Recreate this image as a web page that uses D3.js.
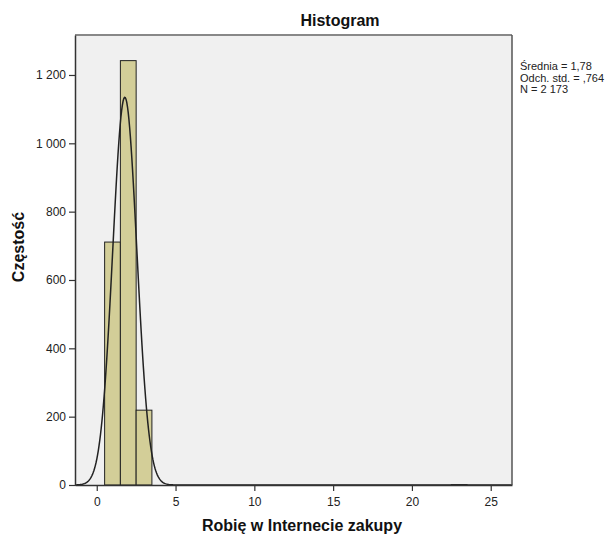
<!DOCTYPE html>
<html><head><meta charset="utf-8">
<script src="https://cdn.jsdelivr.net/npm/d3@7"></script>
<style>body{margin:0;background:#fff;} text{font-family:Arial,"Liberation Sans",sans-serif;}</style>
</head><body>
<svg id="c" width="613" height="535"></svg>
<script>
const binCenters = [1, 2, 3, 23];
const binCounts = [711, 1242, 219, 1];
const binWidth = 1;
const xTicks = [0, 5, 10, 15, 20, 25];
const yTicks = [0, 200, 400, 600, 800, 1000, 1200];
const yTickLabels = ["0", "200", "400", "600", "800", "1 000", "1 200"];
const statsLabels = ["Średnia = 1,78", "Odch. std. = ,764", "N = 2 173"];
const meanVal = 1.78, sdVal = 0.764, nVal = 2173;

const svg = d3.select("#c");
const L = 75, R = 512, T = 35, B = 485;
const x = d3.scaleLinear().domain([-1.38, 26.35]).range([L, R]);
const y = d3.scaleLinear().domain([0, 1317]).range([B, T]);

svg.append("rect").attr("x", L).attr("y", T).attr("width", R - L).attr("height", B - T).attr("fill", "#f0f0f0");

// bars
svg.selectAll(".bar").data(binCenters).enter().append("rect")
  .attr("x", d => x(d - binWidth / 2))
  .attr("width", d => x(d + binWidth / 2) - x(d - binWidth / 2))
  .attr("y", (d, i) => y(binCounts[i]))
  .attr("height", (d, i) => B - y(binCounts[i]))
  .attr("fill", "#d3ce98").attr("stroke", "#222").attr("stroke-width", 1);

// normal curve
const pts = d3.range(0, 601).map(i => {
  const xv = -1.38 + i * (26.35 + 1.38) / 600;
  const yv = nVal * binWidth / (sdVal * Math.sqrt(2 * Math.PI)) * Math.exp(-0.5 * ((xv - meanVal) / sdVal) ** 2);
  return [xv, yv];
});
svg.append("path").datum(pts)
  .attr("d", d3.line().x(d => x(d[0])).y(d => y(d[1])).curve(d3.curveLinear))
  .attr("fill", "none").attr("stroke", "#222").attr("stroke-width", 1.5);

// frame
svg.append("line").attr("x1", L).attr("x2", R).attr("y1", T).attr("y2", T).attr("stroke", "#888").attr("stroke-width", 2);
svg.append("line").attr("x1", R).attr("x2", R).attr("y1", T).attr("y2", B).attr("stroke", "#555").attr("stroke-width", 1.5);

// axes
const ax = svg.append("g").attr("transform", `translate(0,${B})`)
  .call(d3.axisBottom(x).tickValues(xTicks).tickSize(6).tickSizeOuter(0).tickFormat(d3.format("d")));
const ay = svg.append("g").attr("transform", `translate(${L},0)`)
  .call(d3.axisLeft(y).tickValues(yTicks).tickSize(6).tickSizeOuter(0).tickFormat((d, i) => yTickLabels[i]));
[ax, ay].forEach(g => {
  g.select(".domain").attr("stroke", "#333").attr("stroke-width", 1.5);
  g.selectAll(".tick line").attr("stroke", "#333").attr("stroke-width", 1.2);
  g.selectAll(".tick text").attr("font-size", 12).attr("fill", "#222").attr("font-family", "Arial, 'Liberation Sans', sans-serif");
});
ax.selectAll(".tick text").attr("dy", "1.0em");
ay.selectAll(".tick text").attr("x", -9);

// title
svg.append("text").attr("x", 340).attr("y", 26).attr("text-anchor", "middle")
  .attr("font-size", 16).attr("font-weight", "bold").attr("fill", "#111").text("Histogram");

// axis labels
svg.append("text").attr("x", 302).attr("y", 531).attr("text-anchor", "middle")
  .attr("font-size", 16).attr("font-weight", "bold").attr("fill", "#111").text("Robię w Internecie zakupy");
svg.append("text").attr("transform", "translate(24,247) rotate(-90)").attr("text-anchor", "middle")
  .attr("font-size", 16).attr("font-weight", "bold").attr("fill", "#111").text("Częstość");

// stats
svg.selectAll(".st").data(statsLabels).enter().append("text")
  .attr("x", 520).attr("y", (d, i) => 70 + i * 11.5)
  .attr("font-size", 11).attr("fill", "#222").text(d => d);
</script>
</body></html>
